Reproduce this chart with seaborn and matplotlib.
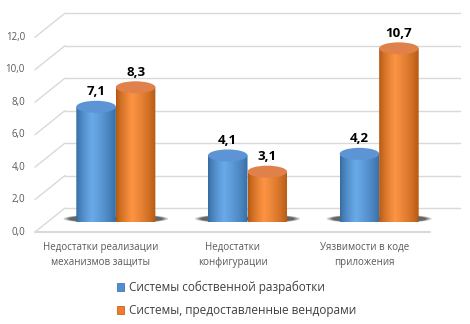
import numpy as np
import pandas as pd
import matplotlib
matplotlib.use("Agg")
import matplotlib.pyplot as plt
import matplotlib.transforms as mtransforms
from matplotlib.patches import Ellipse, Patch, PathPatch
from matplotlib.path import Path
from matplotlib.colors import to_rgb
import seaborn as sns

categories = ["Недостатки реализации\nмеханизмов защиты",
              "Недостатки\nконфигурации",
              "Уязвимости в коде\nприложения"]
series_names = ["Системы собственной разработки",
                "Системы, предоставленные вендорами"]
own_values = [7.1, 4.1, 4.2]
vendor_values = [8.3, 3.1, 10.7]
y_ticks = [0, 2, 4, 6, 8, 10, 12]

colors = ["#4d8fd6", "#ee7b2e"]
dark = ["#33699f", "#b0550f"]
light = ["#6aaaea", "#fd9444"]
tops = ["#5d94d6", "#e0804a"]

df = pd.DataFrame({
    "cat": categories * 2,
    "series": [series_names[0]] * 3 + [series_names[1]] * 3,
    "value": own_values + vendor_values,
})

sns.set_theme(style="white")
plt.rcParams["font.family"] = ["Open Sans", "DejaVu Sans"]

fig = plt.figure(figsize=(4.7, 3.24), dpi=100)
ax = fig.add_axes([50 / 470, 1 - 222 / 324, 395 / 470, 211 / 324])
sns.barplot(data=df, x="cat", y="value", hue="series", palette=colors,
            width=0.6, legend=False, ax=ax, saturation=1, zorder=3)
ax.set_xlim(-0.5, 2.5)
ax.set_ylim(0, 13)
ax.axis("off")

def off(dx, dy):
    return ax.transData + mtransforms.ScaledTranslation(dx / 100, -dy / 100, fig.dpi_scale_trans)

grid_c = "#d9d9d9"
back = off(15, -14)
front = off(-15, 10)
W, H = fig.get_size_inches() * fig.dpi
for v in y_ticks:
    ax.plot([-0.5, 2.5], [v, v], color=grid_c, lw=1.0, transform=back, clip_on=False, zorder=0)
    p0 = front.transform((-0.5, v))
    p1 = back.transform((-0.5, v))
    fig.add_artist(plt.Line2D([p0[0] / W, p1[0] / W], [p0[1] / H, p1[1] / H],
                              transform=fig.transFigure, color=grid_c, lw=1.0, zorder=0))
    ax.text(-0.5, v, f"{v:.1f}".replace(".", ","), transform=off(-25, 10),
            ha="right", va="center", fontsize=7, color="#595959")
ax.plot([-0.5, 2.5], [0, 0], color=grid_c, lw=1.5, transform=front, clip_on=False, zorder=0)

for i, c in enumerate(categories):
    ax.text(i, 0, c, transform=off(-15, 33), ha="center", va="center",
            fontsize=7, color="#595959", linespacing=1.5, multialignment="center")

# cylinder styling derived from the drawn bars
px_per_unit = ax.transData.transform((0, 1))[1] - ax.transData.transform((0, 0))[1]
ell_h = 12 / px_per_unit
bars = list(ax.patches)
n = len(categories)
for k, bar in enumerate(bars):
    s = k // n
    x0 = bar.get_x()
    w = bar.get_width()
    h = bar.get_height()
    x1 = x0 + w
    xc = x0 + w / 2
    # soft shadow on the floor
    sx = xc - w * 0.1 if s == 0 else xc + w * 0.1
    for scale, a in [(1.45, 0.25), (1.32, 0.35), (1.2, 0.45)]:
        ax.add_patch(Ellipse((sx, 0.2), w * scale, ell_h * 0.5 * scale / 1.2,
                             color="#2e2e2e", alpha=a, lw=0, zorder=2))
    # gradient body
    t = np.linspace(0, 1, 80)
    prof = np.interp(t, [0, 0.4, 1], [0, 1, 0]) ** 0.7
    cd, cl = np.array(to_rgb(dark[s])), np.array(to_rgb(light[s]))
    img = (cd[None, :] + (cl - cd)[None, :] * prof[:, None])[None, :, :]
    th = np.linspace(np.pi, 2 * np.pi, 40)
    verts = [(x0, h), (x0, 0)] + [(xc + w / 2 * np.cos(a), ell_h / 2 * np.sin(a)) for a in th] + [(x1, h), (x0, h)]
    clip = PathPatch(Path(verts), transform=ax.transData, facecolor="none", edgecolor="none")
    ax.add_patch(clip)
    im = ax.imshow(img, extent=[x0, x1, -ell_h / 2, h], aspect="auto", zorder=4)
    im.set_clip_path(clip)
    bar.set_visible(False)
    ax.add_patch(Ellipse((xc, h), w, ell_h, color=tops[s], lw=0, zorder=5))
    ax.text(xc, h, f"{h:.1f}".replace(".", ","), transform=off(0, -15),
            ha="center", va="center", fontsize=9.5, fontweight="bold", color="#000000")

ax.set_xlim(-0.5, 2.5)
ax.set_ylim(0, 13)

handles = [Patch(facecolor=colors[0], edgecolor="#33699f", lw=0.5),
           Patch(facecolor=colors[1], edgecolor="#b0550f", lw=0.5)]
fig.legend(handles, series_names, loc="center left",
           bbox_to_anchor=(117 / 470, 1 - 299 / 324), frameon=False,
           handlelength=0.6, handleheight=0.6, handletextpad=0.4,
           labelspacing=0.85, fontsize=8.5, borderpad=0, borderaxespad=0,
           labelcolor="#404040")

fig.savefig("out.png", dpi=100)
